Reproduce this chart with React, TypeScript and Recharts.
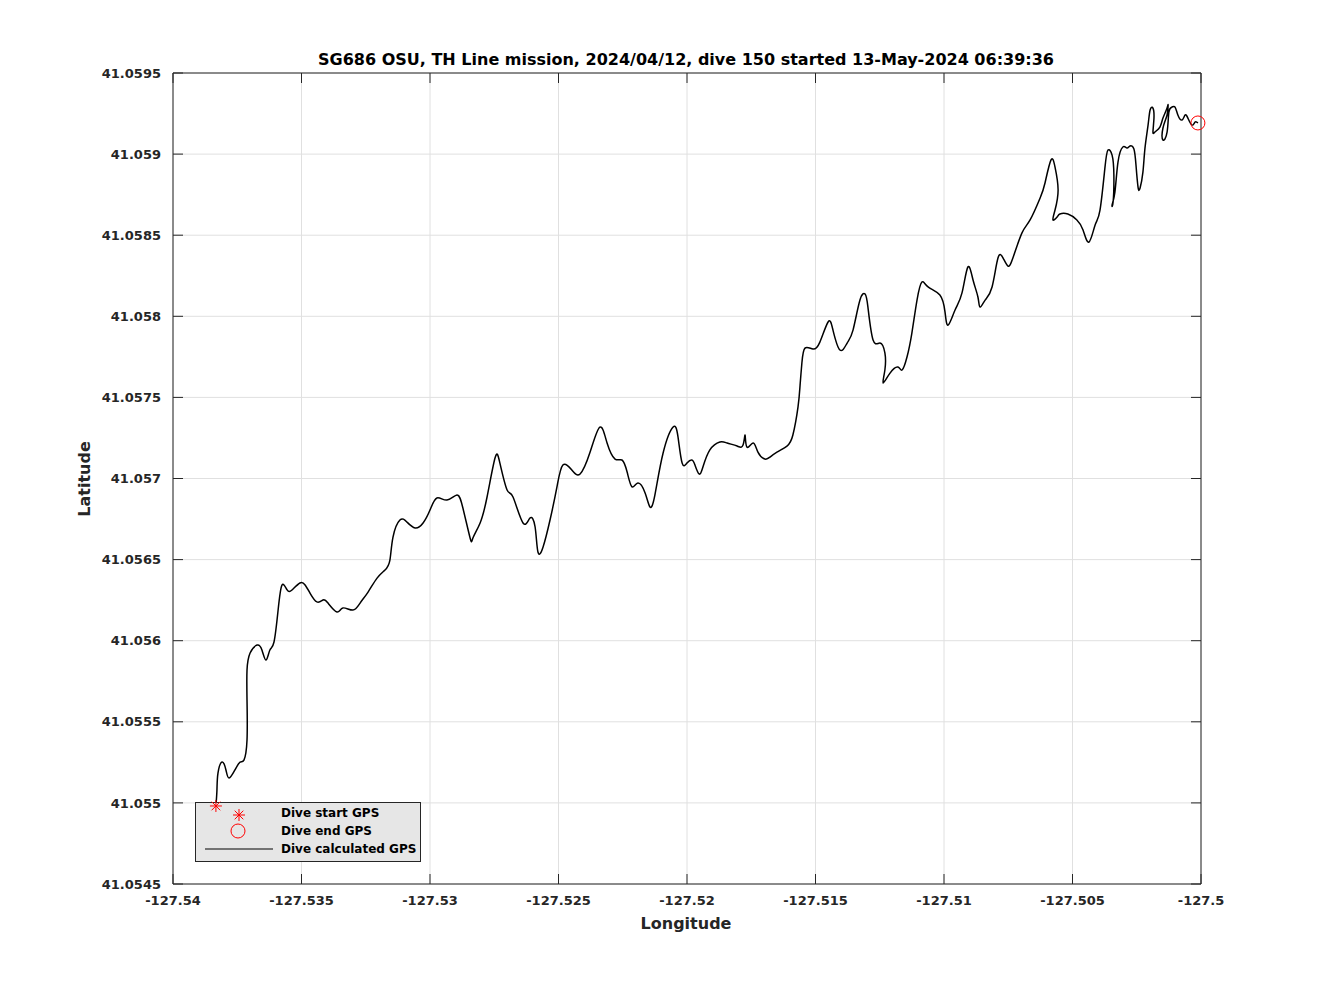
import { ComposedChart, Line, Scatter, XAxis, YAxis, CartesianGrid, ReferenceLine } from "recharts";

const TITLE = "SG686 OSU, TH Line mission, 2024/04/12, dive 150 started 13-May-2024 06:39:36";

// dive track (longitude, latitude)
const lon = [
  -127.53833, -127.53829, -127.53825, -127.53809, -127.53794, -127.53782, -127.53759, -127.53739, -127.53724, -127.53712,
  -127.53712, -127.53712, -127.537, -127.53673, -127.53654, -127.53638, -127.53623, -127.53607, -127.53591, -127.53576,
  -127.53556, -127.53537, -127.53506, -127.53486, -127.53467, -127.5344, -127.53416, -127.53397, -127.53362, -127.53339,
  -127.533, -127.53272, -127.53241, -127.53206, -127.53175, -127.53156, -127.53144, -127.53117, -127.5309, -127.53058,
  -127.53027, -127.53, -127.52973, -127.52934, -127.52895, -127.52872, -127.52844, -127.52833, -127.52805, -127.52778,
  -127.52747, -127.52728, -127.527, -127.52677, -127.52638, -127.52611, -127.52591, -127.5258, -127.5256, -127.52533,
  -127.52506, -127.52483, -127.52448, -127.52416, -127.52377, -127.52339, -127.52311, -127.5228, -127.52253, -127.52233,
  -127.52214, -127.52191, -127.52163, -127.52144, -127.52125, -127.52093, -127.52054, -127.52035, -127.52019, -127.52,
  -127.51981, -127.51969, -127.51953, -127.51938, -127.51911, -127.51872, -127.51844, -127.51805, -127.51782, -127.51774,
  -127.51767, -127.51743, -127.51724, -127.51697, -127.51677, -127.5165, -127.51611, -127.51588, -127.51568, -127.5156,
  -127.51553, -127.51541, -127.5151, -127.51483, -127.51451, -127.51432, -127.51405, -127.51377, -127.51354, -127.51327,
  -127.51307, -127.51296, -127.51276, -127.51249, -127.5123, -127.5123, -127.51237, -127.5121, -127.51179, -127.51163,
  -127.51144, -127.51125, -127.51105, -127.51086, -127.51062, -127.51016, -127.50996, -127.50984, -127.50957, -127.5093,
  -127.50907, -127.50887, -127.50868, -127.5086, -127.5084, -127.50813, -127.5079, -127.5077, -127.50751, -127.50732,
  -127.50697, -127.50665, -127.50626, -127.50607, -127.50584, -127.50568, -127.50556, -127.50568, -127.50576, -127.5056,
  -127.50549, -127.50518, -127.50483, -127.50459, -127.50436, -127.50412, -127.50393, -127.50374, -127.50362, -127.50346,
  -127.50339, -127.50342, -127.50346, -127.50335, -127.50323, -127.50304, -127.50288, -127.50276, -127.50261, -127.50253,
  -127.50245, -127.50237, -127.50226, -127.50218, -127.50206, -127.50198, -127.50187, -127.50183, -127.50187, -127.50179,
  -127.5016, -127.50148, -127.50132, -127.50128, -127.50132, -127.50148, -127.50148, -127.50132, -127.50125, -127.50113,
  -127.50101, -127.5009, -127.50074, -127.50062, -127.50051, -127.50035, -127.50023, -127.50012,
];

const lat = [
  41.054981, 41.05508, 41.055184, 41.055252, 41.055203, 41.055153, 41.055203, 41.055252, 41.055264, 41.055388,
  41.055634, 41.055819, 41.055924, 41.055973, 41.055943, 41.055881, 41.055943, 41.055992, 41.056189, 41.056343,
  41.056313, 41.056313, 41.056356, 41.056343, 41.056294, 41.056239, 41.056251, 41.056232, 41.056177, 41.056202,
  41.056189, 41.056232, 41.0563, 41.056386, 41.056436, 41.056497, 41.056639, 41.056744, 41.056732, 41.056695,
  41.056726, 41.056806, 41.05688, 41.056867, 41.056898, 41.056818, 41.056633, 41.056633, 41.056726, 41.056886,
  41.057126, 41.057095, 41.056929, 41.056886, 41.056726, 41.056756, 41.056701, 41.056547, 41.056578, 41.056744,
  41.056948, 41.057083, 41.057052, 41.057028, 41.057163, 41.057317, 41.057219, 41.05712, 41.057114, 41.05704,
  41.056948, 41.056972, 41.056911, 41.056824, 41.056898, 41.057157, 41.057317, 41.057256, 41.057095, 41.057095,
  41.057114, 41.057083, 41.057028, 41.057071, 41.057176, 41.057225, 41.057219, 41.0572, 41.057206, 41.057268,
  41.057194, 41.057219, 41.057163, 41.05712, 41.057132, 41.057163, 41.0572, 41.057268, 41.057441, 41.057576,
  41.057712, 41.057804, 41.057798, 41.057841, 41.057965, 41.057915, 41.057792, 41.057835, 41.057915, 41.0581,
  41.058137, 41.058057, 41.057854, 41.057835, 41.057774, 41.057669, 41.057589, 41.05765, 41.057687, 41.057669,
  41.057749, 41.057897, 41.0581, 41.058211, 41.058181, 41.058131, 41.058026, 41.057946, 41.058039, 41.058144,
  41.058304, 41.058224, 41.058119, 41.058057, 41.0581, 41.058181, 41.058359, 41.058359, 41.05831, 41.058359,
  41.058513, 41.058594, 41.058729, 41.058822, 41.058963, 41.05892, 41.058779, 41.058655, 41.058594, 41.058612,
  41.058631, 41.058631, 41.058594, 41.058532, 41.058458, 41.058563, 41.058655, 41.058914, 41.059025, 41.058994,
  41.058871, 41.058705, 41.058686, 41.058766, 41.058951, 41.059044, 41.059037, 41.05905, 41.059031, 41.058933,
  41.058797, 41.058791, 41.058889, 41.059037, 41.059179, 41.059272, 41.059284, 41.059222, 41.059136, 41.059136,
  41.059167, 41.059222, 41.059284, 41.059303, 41.059241, 41.059161, 41.059087, 41.059136, 41.059259, 41.05929,
  41.05929, 41.059241, 41.05921, 41.059241, 41.059222, 41.059179, 41.059198, 41.059192,
];

const startFix = [{ lon: -127.53833, lat: 41.054981 }];
const endFix = [{ lon: -127.50012, lat: 41.059192 }];

const xTicks = [-127.54, -127.535, -127.53, -127.525, -127.52, -127.515, -127.51, -127.505, -127.5];
const yTicks = [41.0545, 41.055, 41.0555, 41.056, 41.0565, 41.057, 41.0575, 41.058, 41.0585, 41.059, 41.0595];

const track = lon.map((x, i) => ({ lon: x, lat: lat[i] }));

const W = 1312;
const H = 980;
const PLOT = { left: 165, top: 65, width: 1028, height: 811 };
const FONT = "'DejaVu Sans', sans-serif";
const INK = "#262626";
const RED = "#ff0000";

function XTick({ x, payload }: any) {
  const bottom = PLOT.top + PLOT.height;
  return (
    <g>
      <line x1={x} x2={x} y1={bottom} y2={bottom - 10} stroke={INK} />
      <line x1={x} x2={x} y1={PLOT.top} y2={PLOT.top + 10} stroke={INK} />
      <text x={x} y={bottom + 12} dy="0.71em" textAnchor="middle" fontFamily={FONT} fontSize={13} fontWeight="bold" fill={INK}>
        {String(payload.value)}
      </text>
    </g>
  );
}

function YTick({ y, payload }: any) {
  const l = PLOT.left;
  const r = PLOT.left + PLOT.width;
  return (
    <g>
      <line x1={l} x2={l + 10} y1={y} y2={y} stroke={INK} />
      <line x1={r - 10} x2={r} y1={y} y2={y} stroke={INK} />
      <text x={l - 12} y={y} dy="0.36em" textAnchor="end" fontFamily={FONT} fontSize={13} fontWeight="bold" fill={INK}>
        {String(payload.value)}
      </text>
    </g>
  );
}

function Asterisk({ cx, cy }: any) {
  const r = 6;
  const d = r * 0.72;
  return (
    <g stroke={RED} strokeWidth={1}>
      <line x1={cx - r} x2={cx + r} y1={cy} y2={cy} />
      <line x1={cx} x2={cx} y1={cy - r} y2={cy + r} />
      <line x1={cx - d} x2={cx + d} y1={cy - d} y2={cy + d} />
      <line x1={cx - d} x2={cx + d} y1={cy + d} y2={cy - d} />
    </g>
  );
}

function Ring({ cx, cy }: any) {
  return <circle cx={cx} cy={cy} r={7} fill="none" stroke={RED} strokeWidth={1} />;
}

function Frame({ markersOnly }: { markersOnly: boolean }) {
  return (
    <ComposedChart
      width={W}
      height={H}
      data={track}
      margin={{ top: PLOT.top, right: W - PLOT.left - PLOT.width, bottom: H - PLOT.top - PLOT.height - 40, left: 0 }}
    >
      {!markersOnly && <CartesianGrid stroke="#e0e0e0" />}
      <XAxis
        type="number"
        dataKey="lon"
        domain={[-127.54, -127.5]}
        ticks={xTicks}
        allowDataOverflow={!markersOnly}
        height={40}
        tickSize={0}
        tickMargin={0}
        axisLine={markersOnly ? false : { stroke: INK }}
        tick={markersOnly ? false : XTick}
        tickLine={false}
        interval={0}
      />
      <YAxis
        type="number"
        dataKey="lat"
        domain={[41.0545, 41.0595]}
        ticks={yTicks}
        allowDataOverflow={!markersOnly}
        width={PLOT.left}
        tickSize={0}
        tickMargin={0}
        axisLine={markersOnly ? false : { stroke: INK }}
        tick={markersOnly ? false : YTick}
        tickLine={false}
        interval={0}
      />
      {!markersOnly && <ReferenceLine y={41.0595} stroke={INK} />}
      {!markersOnly && <ReferenceLine x={-127.5} stroke={INK} />}
      {!markersOnly && (
        <Line type="natural" dataKey="lat" stroke="#000000" strokeWidth={1.5} dot={false} isAnimationActive={false} />
      )}
      {markersOnly && <Scatter data={startFix} dataKey="lat" shape={Asterisk} isAnimationActive={false} />}
      {markersOnly && <Scatter data={endFix} dataKey="lat" shape={Ring} isAnimationActive={false} />}
    </ComposedChart>
  );
}

function LegendBox() {
  const items = ["Dive start GPS", "Dive end GPS", "Dive calculated GPS"];
  return (
    <svg width={226} height={60} style={{ position: "absolute", left: 187, top: 794 }}>
      <rect x={0.5} y={0.5} width={225} height={59} fill="#e6e6e6" stroke={INK} />
      <Asterisk cx={44} cy={13} />
      <Ring cx={43} cy={29} />
      <line x1={10} x2={78} y1={47} y2={47} stroke="#000000" strokeWidth={1} />
      {items.map((t, i) => (
        <text key={t} x={86} y={11 + i * 18} dy="0.36em" fontFamily={FONT} fontSize={12} fontWeight="bold" fill="#000">
          {t}
        </text>
      ))}
    </svg>
  );
}

export default function App() {
  const label = {
    position: "absolute" as const,
    fontFamily: FONT,
    fontWeight: "bold" as const,
    fontSize: 16,
    color: INK,
    whiteSpace: "nowrap" as const,
  };
  return (
    <div style={{ position: "relative", width: W, height: H, background: "#fff" }}>
      <Frame markersOnly={false} />
      <LegendBox />
      <div style={{ position: "absolute", left: 0, top: 0 }}>
        <Frame markersOnly={true} />
      </div>
      <div style={{ ...label, left: 678, top: 51, color: "#000", transform: "translate(-50%, -50%)" }}>{TITLE}</div>
      <div style={{ ...label, left: 678, top: 915, transform: "translate(-50%, -50%)" }}>Longitude</div>
      <div style={{ ...label, left: 76, top: 471, transform: "translate(-50%, -50%) rotate(-90deg)" }}>Latitude</div>
    </div>
  );
}
